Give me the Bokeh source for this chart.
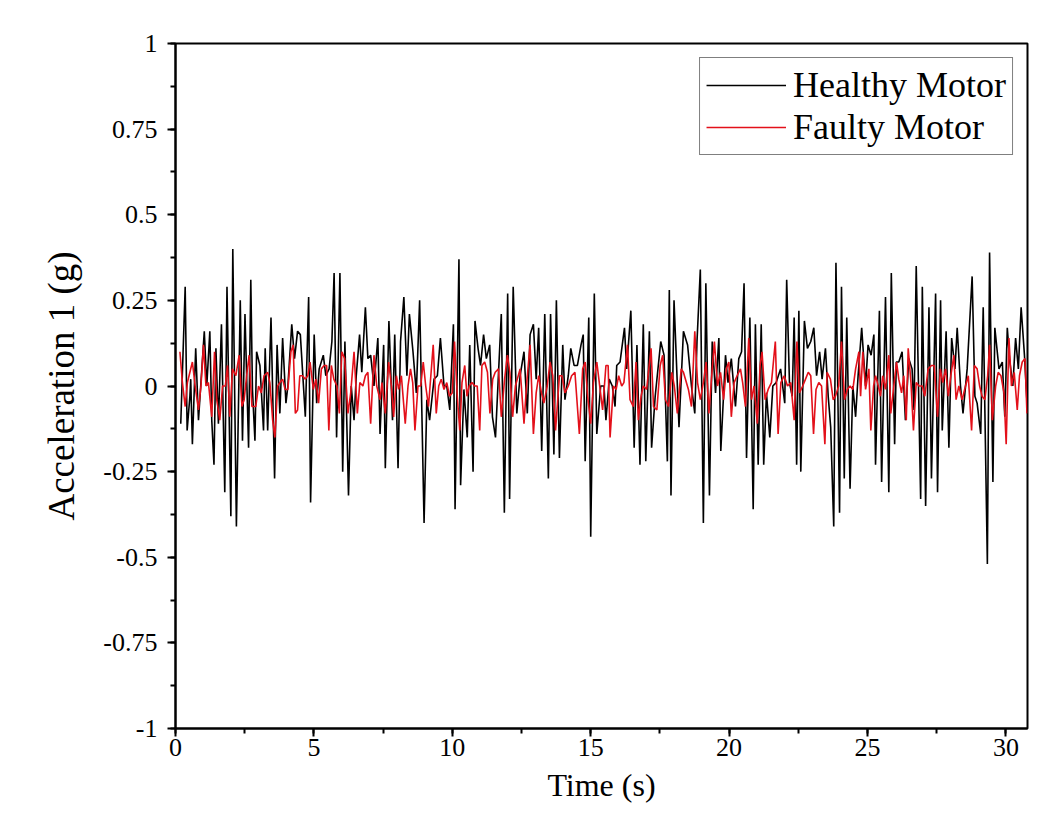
from bokeh.plotting import figure
from bokeh.models import (SingleIntervalTicker, CustomJSTickFormatter, Range1d,
                          Legend, LegendItem, ColumnDataSource)
from bokeh.embed import file_html
from bokeh.resources import INLINE

# ---- data ----
healthy_t = [
    0.19, 0.35, 0.42, 0.52, 0.55, 0.61, 0.73, 0.83, 1.04, 1.13, 1.24, 1.31, 1.39, 1.46, 1.55, 1.66,
    1.78, 1.86, 2.00, 2.07, 2.20, 2.34, 2.42, 2.51, 2.64, 2.72, 2.78, 2.87, 2.93, 3.05, 3.18, 3.24,
    3.33, 3.45, 3.58, 3.67, 3.77, 3.87, 3.99, 4.06, 4.20, 4.30, 4.41, 4.51, 4.69, 4.81, 4.88, 5.01,
    5.10, 5.19, 5.34, 5.43, 5.55, 5.65, 5.73, 5.82, 5.94, 6.04, 6.12, 6.25, 6.35, 6.45, 6.53, 6.65,
    6.73, 6.86, 6.95, 7.05, 7.17, 7.31, 7.39, 7.52, 7.58, 7.71, 7.84, 7.92, 8.04, 8.13, 8.25, 8.36,
    8.45, 8.58, 8.70, 8.82, 8.98, 9.08, 9.18, 9.34, 9.46, 9.57, 9.70, 9.80, 9.91, 10.04, 10.10, 10.24,
    10.30, 10.42, 10.54, 10.63, 10.75, 10.82, 10.93, 11.02, 11.13, 11.23, 11.35, 11.45, 11.56, 11.77,
    11.88, 12.00, 12.07, 12.20, 12.33, 12.45, 12.59, 12.71, 12.81, 12.93, 13.03, 13.12, 13.23, 13.34,
    13.47, 13.55, 13.67, 13.76, 13.87, 13.99, 14.07, 14.19, 14.28, 14.40, 14.52, 14.65, 14.73, 14.80,
    14.93, 15.00, 15.13, 15.22, 15.36, 15.48, 15.55, 15.67, 15.78, 15.88, 15.94, 16.06, 16.22, 16.30,
    16.45, 16.57, 16.67, 16.78, 16.90, 16.99, 17.12, 17.20, 17.33, 17.53, 17.65, 17.77, 17.84, 17.90,
    18.01, 18.19, 18.35, 18.50, 18.64, 18.76, 18.84, 18.96, 19.07, 19.16, 19.29, 19.39, 19.51, 19.63,
    19.70, 19.87, 19.96, 20.08, 20.23, 20.35, 20.45, 20.54, 20.63, 20.75, 20.87, 20.95, 21.05, 21.16,
    21.25, 21.35, 21.47, 21.58, 21.70, 21.86, 22.01, 22.08, 22.18, 22.28, 22.35, 22.44, 22.52, 22.59,
    22.72, 22.83, 22.95, 23.06, 23.16, 23.27, 23.36, 23.48, 23.58, 23.67, 23.78, 23.86, 23.99, 24.06,
    24.16, 24.25, 24.37, 24.47, 24.57, 24.66, 24.79, 24.93, 25.02, 25.13, 25.23, 25.29, 25.43, 25.51,
    25.65, 25.77, 25.86, 25.98, 26.04, 26.13, 26.25, 26.37, 26.49, 26.61, 26.68, 26.76, 26.92, 26.98,
    27.10, 27.22, 27.31, 27.46, 27.53, 27.64, 27.70, 27.84, 27.94, 28.04, 28.16, 28.24, 28.36, 28.45,
    28.60, 28.78, 28.88, 28.96, 29.09, 29.18, 29.33, 29.41, 29.53, 29.60, 29.75, 29.87, 29.96, 30.05,
    30.13, 30.25, 30.35, 30.45, 30.55, 30.67, 30.77,
]
healthy_g = [
    -0.11, 0.29, -0.13, -0.03, 0.02, -0.17, 0.11, -0.10, 0.16, 0.00, 0.16, -0.10, -0.23, 0.11, -0.11, 0.18,
    -0.31, 0.29, -0.38, 0.40, -0.41, 0.25, -0.16, 0.21, -0.18, 0.31, -0.01, -0.16, 0.10, 0.06, -0.13, 0.11,
    -0.13, 0.20, -0.27, 0.12, -0.08, 0.14, -0.05, 0.00, 0.18, 0.08, 0.16, 0.15, -0.09, 0.26, -0.34, 0.15,
    -0.05, 0.05, 0.09, 0.03, 0.05, 0.13, 0.33, -0.15, 0.33, -0.25, 0.13, -0.32, 0.00, -0.10, 0.03, 0.15,
    0.04, 0.23, 0.08, 0.09, 0.00, 0.14, -0.14, 0.12, -0.24, 0.19, -0.10, 0.15, -0.24, 0.13, 0.26, 0.03,
    0.21, 0.10, -0.02, 0.25, -0.40, -0.04, -0.10, 0.02, 0.03, 0.14, 0.00, 0.00, -0.07, 0.18, -0.36, 0.37,
    -0.29, -0.01, -0.15, 0.12, -0.25, 0.19, 0.11, 0.06, 0.15, 0.08, 0.12, -0.09, -0.15, 0.21,
    -0.37, 0.27, -0.33, 0.29, -0.08, 0.03, 0.10, -0.08, 0.15, 0.18, 0.02, 0.17, -0.19, 0.21,
    -0.27, 0.21, -0.20, 0.25, -0.21, 0.12, -0.04, 0.03, 0.11, 0.06, 0.06, 0.12, 0.15, -0.22,
    0.20, -0.44, 0.27, -0.14, 0.00, 0.00, -0.10, 0.02, 0.00, -0.06, 0.06, 0.07, 0.17, 0.05,
    0.22, -0.18, 0.12, -0.23, 0.18, -0.22, 0.16, -0.18, -0.03, 0.13, 0.09, -0.22, 0.28, -0.32,
    0.25, -0.12, 0.16, 0.12, 0.00, -0.08, 0.13, 0.34, -0.40, 0.30, -0.32, 0.13, -0.02, 0.14,
    -0.19, 0.09, 0.01, 0.08, -0.06, 0.08, 0.10, 0.30, -0.21, 0.20, -0.36, 0.18, -0.23, 0.18,
    -0.23, -0.02, -0.15, 0.00, 0.01, 0.05, -0.05, 0.31, 0.01, -0.03, 0.20, -0.23, 0.22, -0.25,
    0.19, 0.11, 0.13, 0.17, 0.03, 0.10, 0.02, 0.11, -0.03, -0.12, -0.41, 0.36, -0.37, 0.29,
    -0.27, 0.20, -0.30, 0.00, -0.09, 0.03, 0.17, 0.00, 0.12, 0.09, 0.15, -0.23, 0.22, -0.28,
    0.26, -0.31, 0.33, -0.17, 0.07, 0.07, 0.10, -0.10, 0.08, 0.05, -0.07, 0.35, -0.33, 0.29,
    -0.35, 0.23, -0.27, 0.27, -0.31, 0.25, -0.13, 0.16, -0.18, 0.14, 0.05, 0.17, 0.00, -0.08,
    0.05, 0.32, -0.03, -0.05, -0.14, 0.23, -0.52, 0.39, -0.28, 0.17, 0.05, 0.07, -0.09, 0.17,
    0.08, 0.00, 0.14, 0.05, 0.23, 0.09, -0.06,
]

faulty_t = [
    0.16, 0.25, 0.35, 0.43, 0.52, 0.61, 0.71, 0.83, 0.92, 1.01, 1.10, 1.19, 1.31, 1.41, 1.49, 1.60,
    1.70, 1.80, 1.88, 1.96, 2.06, 2.18, 2.30, 2.40, 2.48, 2.57, 2.66, 2.76, 2.90, 3.00, 3.10, 3.20,
    3.33, 3.41, 3.51, 3.59, 3.69, 3.77, 3.87, 3.96, 4.06, 4.17, 4.25, 4.33, 4.41, 4.49, 4.59, 4.69,
    4.78, 4.86, 4.98, 5.07, 5.17, 5.27, 5.37, 5.46, 5.54, 5.63, 5.72, 5.83, 5.92, 6.01, 6.11, 6.23,
    6.33, 6.45, 6.57, 6.66, 6.77, 6.86, 6.95, 7.05, 7.17, 7.27, 7.39, 7.46, 7.58, 7.70, 7.80, 7.88,
    7.98, 8.06, 8.16, 8.30, 8.40, 8.49, 8.57, 8.65, 8.76, 8.86, 8.95, 9.04, 9.14, 9.31, 9.42, 9.51,
    9.60, 9.70, 9.80, 9.90, 10.00, 10.08, 10.18, 10.27, 10.35, 10.45, 10.53, 10.61, 10.71, 10.81,
    10.90, 10.99, 11.07, 11.17, 11.27, 11.36, 11.46, 11.55, 11.67, 11.77, 11.89, 11.99, 12.08, 12.18,
    12.28, 12.45, 12.59, 12.69, 12.81, 12.93, 13.03, 13.12, 13.22, 13.31, 13.43, 13.53, 13.63, 13.73,
    13.87, 13.96, 14.07, 14.19, 14.31, 14.43, 14.59, 14.71, 14.80, 14.89, 15.00, 15.10, 15.22, 15.34,
    15.43, 15.55, 15.63, 15.70, 15.82, 15.92, 16.01, 16.12, 16.20, 16.33, 16.42, 16.54, 16.64, 16.72,
    16.82, 16.90, 17.02, 17.18, 17.27, 17.39, 17.51, 17.60, 17.70, 17.81, 17.93, 18.02, 18.13, 18.27,
    18.35, 18.53, 18.64, 18.76, 18.86, 18.96, 19.07, 19.17, 19.27, 19.39, 19.47, 19.58, 19.69, 19.80,
    19.90, 19.99, 20.08, 20.18, 20.29, 20.41, 20.49, 20.59, 20.71, 20.81, 20.90, 21.02, 21.12, 21.19,
    21.30, 21.41, 21.53, 21.67, 21.77, 21.87, 21.99, 22.11, 22.23, 22.35, 22.45, 22.54, 22.66, 22.76,
    22.86, 22.95, 23.05, 23.14, 23.24, 23.34, 23.46, 23.54, 23.66, 23.76, 23.84, 23.96, 24.06, 24.17,
    24.27, 24.37, 24.47, 24.57, 24.69, 24.75, 24.83, 24.93, 25.05, 25.12, 25.22, 25.29, 25.39, 25.47,
    25.55, 25.65, 25.77, 25.84, 25.95, 26.05, 26.13, 26.23, 26.31, 26.40, 26.47, 26.57, 26.66, 26.76,
    26.86, 26.98, 27.07, 27.19, 27.31, 27.41, 27.53, 27.63, 27.72, 27.82, 27.92, 28.01, 28.12, 28.20,
    28.30, 28.42, 28.54, 28.64, 28.76, 28.86, 28.96, 29.05, 29.14, 29.24, 29.34, 29.41, 29.51, 29.63,
    29.72, 29.82, 29.93, 30.01, 30.11, 30.20, 30.30, 30.41, 30.49, 30.59, 30.69, 30.76,
]
faulty_g = [
    0.10, 0.01, -0.06, 0.01, 0.04, 0.07, 0.00, -0.07, 0.00, 0.12, 0.00, 0.01, -0.09, 0.10, -0.04, -0.10,
    0.00, 0.00, 0.06, -0.09, 0.05, 0.03, 0.09, -0.06, -0.04, 0.03, 0.09, -0.06, -0.06, 0.00, -0.02, 0.03,
    0.04, 0.01, -0.10, -0.15, 0.00, 0.01, 0.02, -0.01, -0.01, 0.10, 0.12, -0.08, -0.07, 0.03, 0.03, 0.02,
    0.03, 0.07, -0.01, 0.02, -0.05, 0.05, 0.06, 0.06, -0.13, 0.06, 0.02, 0.00, -0.08, 0.10, 0.08, -0.08,
    -0.02, 0.10, -0.08, 0.01, 0.00, 0.03, 0.04, -0.11, 0.09, 0.00, -0.04, 0.01, -0.08, 0.07, 0.00, -0.09,
    0.03, -0.01, 0.03, -0.11, 0.00, 0.05, 0.01, -0.13, 0.00, 0.00, 0.07, 0.00, -0.06, 0.12, -0.08, 0.00,
    0.02, -0.01, 0.01, -0.03, -0.02, 0.13, -0.03, -0.13, 0.01, 0.06, -0.03, 0.00, 0.01, 0.00,
    0.00, -0.13, 0.06, 0.07, 0.04, -0.08, 0.02, 0.04, 0.05, -0.09, 0.02, 0.09, 0.04, -0.09,
    0.00, 0.05, -0.11, 0.01, 0.12, -0.14, -0.02, 0.03, -0.02, -0.05, 0.00, 0.07, 0.03, -0.13,
    0.03, 0.03, -0.02, 0.00, 0.03, 0.04, -0.14, 0.05, 0.07, -0.03, -0.11, 0.01, 0.07, -0.01,
    -0.07, 0.06, 0.06, -0.15, 0.00, -0.01, 0.03, 0.00, 0.01, 0.12, -0.04, -0.06, 0.07, -0.10,
    -0.03, 0.00, -0.01, 0.11, -0.06, -0.07, 0.06, 0.09, -0.04, -0.06, 0.04, 0.00, -0.08, 0.05,
    0.04, -0.01, -0.06, 0.16, 0.01, -0.04, 0.01, 0.07, -0.08, 0.05, 0.13, 0.00, 0.04, -0.04,
    0.05, 0.07, -0.09, 0.01, 0.03, 0.05, 0.01, -0.06, 0.14, -0.04, 0.00, -0.11, 0.06, 0.10,
    -0.04, -0.01, 0.01, 0.13, -0.14, 0.01, 0.03, 0.00, 0.01, -0.10, 0.13, -0.02, 0.00, 0.02,
    0.04, 0.03, -0.14, -0.01, 0.01, 0.00, -0.17, 0.04, 0.02, -0.04, -0.03, 0.00, 0.13, -0.04,
    -0.01, 0.00, -0.01, 0.05, 0.10, -0.03, 0.10, -0.01, 0.05, -0.13, 0.00, 0.03, 0.00, -0.03,
    0.03, -0.01, 0.09, -0.08, 0.00, 0.07, 0.02, -0.02, 0.03, -0.10, 0.11, 0.01, -0.13, 0.01,
    0.00, 0.00, -0.03, 0.05, 0.06, 0.06, -0.09, 0.05, 0.01, 0.05, -0.03, 0.03, 0.09, -0.04,
    0.00, -0.04, 0.00, 0.03, -0.13, 0.06, 0.05, 0.00, -0.03, -0.04, 0.03, 0.12, -0.10, 0.00,
    0.04, 0.03, -0.02, -0.17, 0.14, 0.00, 0.04, -0.07, 0.03, 0.07, 0.08, -0.08,
]

x_ticks_interval = 5
y_ticks_interval = 0.25
series_labels = ["Healthy Motor", "Faulty Motor"]

FONT = "Liberation Serif"

p = figure(width=1035, height=826, output_backend="svg", toolbar_location=None,
           x_range=Range1d(0, 30.78), y_range=Range1d(-1, 1),
           min_border_left=175, min_border_right=8, min_border_top=43,
           min_border_bottom=98, background_fill_color="white",
           border_fill_color="white")

p.xgrid.visible = False
p.ygrid.visible = False
p.outline_line_color = "black"
p.outline_line_width = 2
p.outline_line_alpha = 1

src_h = ColumnDataSource(dict(t=healthy_t, g=healthy_g))
src_f = ColumnDataSource(dict(t=faulty_t, g=faulty_g))
r1 = p.line("t", "g", source=src_h, line_color="black", line_width=1.6)
r2 = p.line("t", "g", source=src_f, line_color="#e3101a", line_width=1.6)

for ax in (p.xaxis[0], p.yaxis[0]):
    ax.axis_line_width = 2
    ax.axis_line_color = "black"
    ax.major_tick_in = 0
    ax.major_tick_out = 8
    ax.minor_tick_in = 0
    ax.minor_tick_out = 5
    ax.major_tick_line_width = 2
    ax.minor_tick_line_width = 2
    ax.major_label_text_font = FONT
    ax.major_label_text_font_size = "26px"
    ax.major_label_text_color = "black"
    ax.axis_label_text_font = FONT
    ax.axis_label_text_font_style = "normal"
    ax.axis_label_text_color = "black"

p.xaxis[0].axis_label_text_font_size = "32px"
p.yaxis[0].axis_label_text_font_size = "37px"
p.xaxis[0].ticker = SingleIntervalTicker(interval=x_ticks_interval, num_minor_ticks=2)
p.yaxis[0].ticker = SingleIntervalTicker(interval=y_ticks_interval, num_minor_ticks=2)
p.yaxis[0].formatter = CustomJSTickFormatter(code="return tick.toString();")
p.xaxis[0].formatter = CustomJSTickFormatter(code="return tick.toString();")
p.xaxis[0].axis_label = "Time (s)"
p.yaxis[0].axis_label = "Acceleration 1 (g)"
p.xaxis[0].major_label_standoff = 2
p.yaxis[0].major_label_standoff = 10
p.xaxis[0].axis_label_standoff = 8
p.yaxis[0].axis_label_standoff = 18

legend = Legend(items=[LegendItem(label=series_labels[0], renderers=[r1]),
                       LegendItem(label=series_labels[1], renderers=[r2])],
                location="top_right")
legend.label_text_font = FONT
legend.label_text_font_size = "36px"
legend.label_text_color = "black"
legend.glyph_width = 80
legend.glyph_height = 30
legend.label_height = 30
legend.label_standoff = 7
legend.spacing = 0
legend.padding = 6
legend.margin = 14
legend.border_line_color = "black"
legend.border_line_width = 1
legend.background_fill_alpha = 1
p.add_layout(legend)

open("out.html", "w").write(file_html(p, INLINE))
